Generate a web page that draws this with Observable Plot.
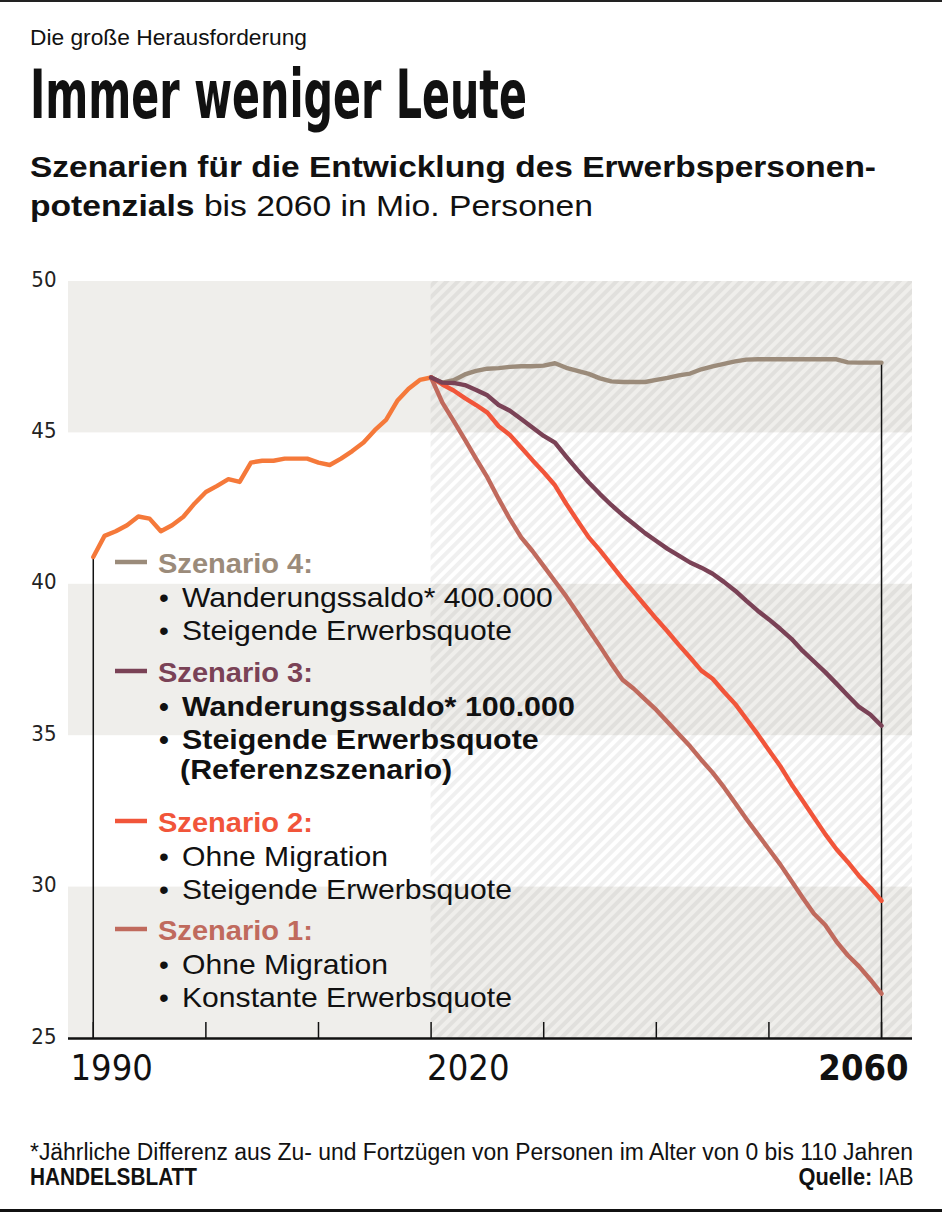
<!DOCTYPE html>
<html><head><meta charset="utf-8">
<script src="https://cdn.jsdelivr.net/npm/d3@7"></script>
<script src="https://cdn.jsdelivr.net/npm/@observablehq/plot@0.6"></script>
<style>
html,body{margin:0;padding:0;background:#fff;}
#page{position:relative;width:942px;height:1212px;overflow:hidden;background:#fff;}
.t{position:absolute;white-space:nowrap;line-height:1;color:#111;}
#chart{position:absolute;left:0;top:250px;}
</style></head><body><div id="page"></div>
<script>
// ---------- DATA ----------
const histStart = 1990;
const histValues = [40.9, 41.6, 41.75, 41.95, 42.24, 42.17, 41.75, 41.95, 42.23, 42.67,
  43.05, 43.25, 43.47, 43.38, 44.02, 44.08, 44.08, 44.15, 44.15, 44.15,
  44.02, 43.94, 44.15, 44.4, 44.68, 45.09, 45.43, 46.06, 46.46, 46.75, 46.83];

const projStart = 2020;
const scenario4 = [46.83, 46.66, 46.74, 46.93, 47.05, 47.12, 47.14, 47.18, 47.2, 47.2,
  47.22, 47.3, 47.15, 47.05, 46.95, 46.8, 46.7, 46.68, 46.68, 46.68,
  46.75, 46.82, 46.9, 46.96, 47.1, 47.2, 47.28, 47.36, 47.42, 47.43,
  47.43, 47.43, 47.43, 47.43, 47.43, 47.43, 47.43, 47.33, 47.32, 47.32, 47.32];
const scenario3 = [46.83, 46.66, 46.65, 46.58, 46.42, 46.24, 45.92, 45.73, 45.46, 45.18,
  44.9, 44.68, 44.22, 43.78, 43.36, 42.98, 42.62, 42.29, 41.99, 41.69,
  41.43, 41.17, 40.95, 40.72, 40.55, 40.35, 40.08, 39.79, 39.45, 39.13,
  38.84, 38.53, 38.2, 37.8, 37.45, 37.1, 36.72, 36.33, 35.95, 35.7, 35.33];
const scenario2 = [46.83, 46.6, 46.4, 46.15, 45.92, 45.67, 45.22, 44.93, 44.52, 44.1,
  43.7, 43.27, 42.66, 42.1, 41.55, 41.12, 40.65, 40.18, 39.74, 39.3,
  38.86, 38.44, 38.0, 37.58, 37.15, 36.88, 36.45, 36.05, 35.55, 35.05,
  34.52, 34.0, 33.4, 32.85, 32.3, 31.75, 31.25, 30.83, 30.37, 29.98, 29.55];
const scenario1 = [46.83, 46.0, 45.4, 44.78, 44.14, 43.53, 42.82, 42.15, 41.55, 41.1,
  40.6, 40.1, 39.6, 39.05, 38.5, 37.95, 37.38, 36.85, 36.55, 36.2,
  35.85, 35.45, 35.05, 34.65, 34.2, 33.78, 33.3, 32.78, 32.25, 31.75,
  31.25, 30.75, 30.2, 29.65, 29.12, 28.75, 28.2, 27.75, 27.38, 26.95, 26.48];

const scenarioNames = ["Szenario 4:", "Szenario 3:", "Szenario 2:", "Szenario 1:"];
const scenarioItems = [
  ["Wanderungssaldo* 400.000", "Steigende Erwerbsquote"],
  ["Wanderungssaldo* 100.000", "Steigende Erwerbsquote", "(Referenzszenario)"],
  ["Ohne Migration", "Steigende Erwerbsquote"],
  ["Ohne Migration", "Konstante Erwerbsquote"]
];
const yTicks = [25, 30, 35, 40, 45, 50];
const xTicks = [1990, 2000, 2010, 2020, 2030, 2040, 2050, 2060];
const xLabels = [1990, 2020, 2060];
const bandRanges = [[45, 50], [35, 40], [25, 30]];

// ---------- STYLE ----------
const colors = {hist: "#f5793a", s4: "#9b8b7a", s3: "#7a4256", s2: "#f1553a", s1: "#c06a5d"};
const legendColors = [colors.s4, colors.s3, colors.s2, colors.s1];
const bandColor = "#efeeeb";
const hatchMarker = "#fefefe";
const narrow = '"Liberation Sans Narrow", "DejaVu Sans Condensed", "Liberation Sans", sans-serif';
const sans = '"Liberation Sans", Arial, sans-serif';

const page = document.getElementById("page");

function addText(opts) {
  const el = document.createElement("div");
  el.className = "t";
  el.style.font = `${opts.weight || 400} ${opts.size}px ${opts.font}`;
  el.style.color = opts.color || "#111";
  el.innerHTML = opts.html;
  el.style.left = "0px"; el.style.top = "0px";
  page.appendChild(el);
  const probe = document.createElement("span");
  probe.style.cssText = "display:inline-block;width:0;height:0;vertical-align:baseline";
  el.appendChild(probe);
  const r = el.getBoundingClientRect();
  const b = probe.getBoundingClientRect().top - r.top;
  el.removeChild(probe);
  const w = r.width;
  const s = opts.width ? opts.width / w : 1;
  el.style.transformOrigin = opts.align === "right" ? "right top" : "left top";
  el.style.transform = `scaleX(${s})`;
  el.style.top = (opts.baseline - b) + "px";
  el.style.left = (opts.align === "right" ? opts.x - w : opts.x) + "px";
  return el;
}

// rules top & bottom
const topRule = document.createElement("div");
topRule.style.cssText = "position:absolute;left:0;top:0;width:942px;height:2px;background:#222";
page.appendChild(topRule);
const botRule = document.createElement("div");
botRule.style.cssText = "position:absolute;left:0;top:1209px;width:942px;height:3px;background:#111";
page.appendChild(botRule);

// header
addText({html: "Die große Herausforderung", x: 30, baseline: 45, size: 22, font: sans, width: 277});
addText({html: "Immer weniger Leute", x: 30, baseline: 118, size: 67, weight: 700, font: narrow, width: 497});
addText({html: "Szenarien für die Entwicklung des Erwerbspersonen-", x: 30, baseline: 177, size: 30, weight: 700, font: sans, width: 846});
addText({html: "<b>potenzials</b> bis 2060 in Mio. Personen", x: 30, baseline: 216, size: 30, font: sans, width: 563});

// footer
addText({html: "*Jährliche Differenz aus Zu- und Fortzügen von Personen im Alter von 0 bis 110 Jahren", x: 30, baseline: 1160, size: 23, font: sans, width: 883});
addText({html: "HANDELSBLATT", x: 30, baseline: 1185, size: 23, weight: 700, font: sans, width: 167});
addText({html: "<b>Quelle:</b> IAB", x: 913, baseline: 1185, size: 23, font: sans, width: 115, align: "right"});

// ---------- CHART ----------
const xMin = 1987.8, xMax = 2062.75;
const W = 942, H = 840, mT = 31, mB = 52, mL = 68, mR = 30;
const plotH = H - mT - mB;

const hist = histValues.map((v, i) => ({year: histStart + i, value: v}));
const toSeries = (vals) => vals.map((v, i) => ({year: projStart + i, value: v}));
const lastMax = d3.max([scenario1, scenario2, scenario3, scenario4], s => s[s.length - 1]);
const lineOpts = (c) => ({x: "year", y: "value", stroke: c, strokeWidth: 4.4, strokeLinejoin: "round", strokeLinecap: "round"});

const chart = Plot.plot({
  width: W, height: H, marginTop: mT, marginBottom: mB, marginLeft: mL, marginRight: mR,
  style: {background: "transparent", overflow: "visible"},
  x: {domain: [xMin, xMax], axis: null},
  y: {domain: [yTicks[0], yTicks[yTicks.length - 1]], axis: null},
  marks: [
    Plot.rect(bandRanges, {x1: () => xMin, x2: () => xMax, y1: d => d[0], y2: d => d[1], fill: bandColor}),
    Plot.rect([[projStart, xMax]], {x1: d => d[0], x2: d => d[1], y1: () => yTicks[0], y2: () => yTicks[yTicks.length - 1], fill: hatchMarker}),
    Plot.ruleX(xTicks, {x: d => d, stroke: "#111", strokeWidth: 1.5, insetTop: plotH - 16}),
    Plot.ruleX([[histStart, histValues[0]], [projStart + scenario4.length - 1, lastMax]], {x: d => d[0], y1: () => yTicks[0], y2: d => d[1], stroke: "#111", strokeWidth: 1.5}),
    Plot.ruleY([yTicks[0]], {y: d => d, stroke: "#111", strokeWidth: 2.5}),
    Plot.text(yTicks, {x: () => xMin, y: d => d, text: d => String(d), textAnchor: "end", dx: -12, dy: -2, fontSize: 22, fontFamily: narrow, fill: "#222"}),
    Plot.text([xLabels[0]], {x: () => xMin, y: () => yTicks[0], text: d => String(d), textAnchor: "start", lineAnchor: "bottom", dx: 2, dy: 41, fontSize: 36, fontFamily: narrow, fill: "#111"}),
    Plot.text([xLabels[1]], {x: d => d, y: () => yTicks[0], text: d => String(d), textAnchor: "start", lineAnchor: "bottom", dx: -4, dy: 41, fontSize: 36, fontFamily: narrow, fill: "#111"}),
    Plot.text([xLabels[2]], {x: () => xMax, y: () => yTicks[0], text: d => String(d), textAnchor: "end", lineAnchor: "bottom", dx: -4, dy: 41, fontSize: 36, fontWeight: "bold", fontFamily: narrow, fill: "#111"}),
    Plot.line(hist, lineOpts(colors.hist)),
    Plot.line(toSeries(scenario4), lineOpts(colors.s4)),
    Plot.line(toSeries(scenario1), lineOpts(colors.s1)),
    Plot.line(toSeries(scenario2), lineOpts(colors.s2)),
    Plot.line(toSeries(scenario3), lineOpts(colors.s3))
  ]
});
chart.id = "chart";
page.appendChild(chart);

// hatch pattern (semi-transparent diagonal stripes over the projection period)
const svgSel = d3.select(chart);
const defs = svgSel.insert("defs", ":first-child");
const pat = defs.append("pattern").attr("id", "hatchPat").attr("patternUnits", "userSpaceOnUse")
  .attr("width", 8).attr("height", 8).attr("patternTransform", "rotate(45)");
pat.append("rect").attr("width", 4).attr("height", 8).attr("fill", "rgba(0,0,0,0.058)");
svgSel.selectAll("*").filter(function () {
  const f = this.getAttribute("fill");
  return f && f.toLowerCase() === hatchMarker;
}).attr("fill", "url(#hatchPat)");

// ---------- LEGEND (overlay) ----------
const lg = d3.select(page).append("svg").attr("width", 942).attr("height", 1212)
  .style("position", "absolute").style("left", "0px").style("top", "0px");
function measure(str, size, weight) {
  const t = lg.append("text").attr("font-family", sans).attr("font-size", size).attr("font-weight", weight).text(str);
  const w = t.node().getComputedTextLength(); t.remove(); return w;
}
const fs = 28;
const sxHead = 155 / measure(scenarioNames[0], fs, 700);
const sxReg = 371 / measure(scenarioItems[0][0], fs, 400);
const sxBold = 393 / measure(scenarioItems[1][0], fs, 700);
const headBase = [573, 682, 832, 940];
function txt(str, x, y, weight, fill, sx) {
  lg.append("text").attr("transform", `translate(${x},${y}) scale(${sx},1)`)
    .attr("font-family", sans).attr("font-size", fs).attr("font-weight", weight).attr("fill", fill).text(str);
}
scenarioNames.forEach((name, i) => {
  const y0 = headBase[i];
  lg.append("line").attr("x1", 115).attr("x2", 147).attr("y1", y0 - 11).attr("y2", y0 - 11)
    .attr("stroke", legendColors[i]).attr("stroke-width", 4.5);
  txt(name, 158, y0, 700, legendColors[i], sxHead);
  const bold = i === 1;
  scenarioItems[i].forEach((item, j) => {
    const y = y0 + 34 + 33 * j;
    const isNote = item.startsWith("(");
    if (!isNote) txt("•", 159, y, bold ? 700 : 400, "#111", 1);
    txt(item, isNote ? 180 : 182, isNote ? y - 3 : y, bold ? 700 : 400, "#111", bold ? sxBold : sxReg);
  });
});
</script></body></html>
